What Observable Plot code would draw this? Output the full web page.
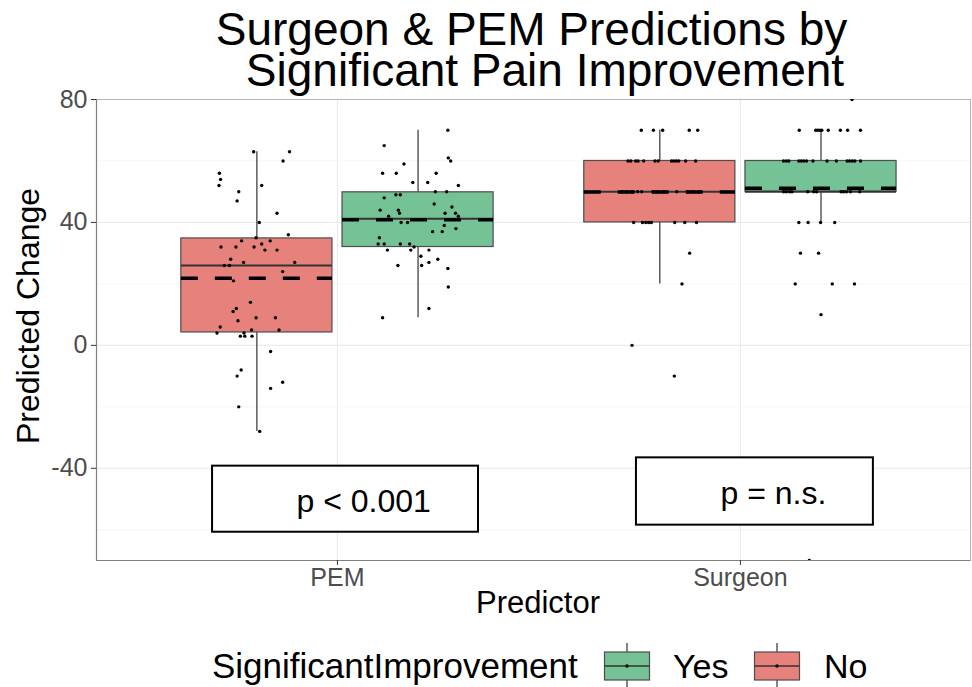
<!DOCTYPE html>
<html><head><meta charset="utf-8">
<script src="https://cdn.jsdelivr.net/npm/d3@7"></script>
<script src="https://cdn.jsdelivr.net/npm/@observablehq/plot@0.6"></script>
<style>body{margin:0;background:#fff} #chart svg{display:block}</style>
</head><body><div id="chart"></div>
<script>
// ---------- data ----------
const predictors = ["PEM", "Surgeon"];
const groups = ["Yes", "No"];
const yTicks = [-40, 0, 40, 80];
const yMinorTicks = [-60, -20, 20, 60];

// box statistics (order: PEM-No, PEM-Yes, Surgeon-No, Surgeon-Yes)
const boxPredictor = ["PEM", "PEM", "Surgeon", "Surgeon"];
const boxGroup = ["No", "Yes", "No", "Yes"];
const q1 = [4.2, 32, 40, 50];
const median = [26, 41.2, 50, 50];
const q3 = [34.8, 49.8, 60, 60];
const whiskerLow = [-28, 9, 20, 40];
const whiskerHigh = [63, 70, 70, 70];
const meanValue = [21.8, 40.9, 49.9, 51.1];

// individual (jittered) predictions; jitter = fraction of jitter width
const pemNoValues = [63,63,60,56,54,52,52,50,47,43,40,36,35,34,34,32,32,32,33,31,31,28,26,26,27,27,24,21,14,12,11,9,9,8,6,5,5,4,4,3,3,3,-2,-8,-10,-12,-14,-20,-28];
const pemNoJitter = [-0.08,0.81,0.65,-0.93,-0.90,-0.94,0.12,-0.45,-0.49,0.50,0.06,0.78,-0.02,-0.38,0.33,-0.89,-0.52,-0.07,0.12,0.20,0.50,-0.65,-0.81,-0.68,-0.33,0.94,0.64,-0.58,-0.16,-0.51,-0.59,-0.02,0.46,-0.47,-0.91,-0.13,0.55,-0.99,-0.32,-0.41,-0.30,-0.12,0.34,-0.39,-0.49,0.64,0.34,-0.45,0.07];

const pemYesValues = [70,65,61,60,59,56,56,56,53,53,52,50,50,49,49,48,46,45,44,44,43,43,43,42,42,40,40,39,38,37,37,35,33,33,33,33,32,31,31,31,29,28,27,26,26,25,19,12,9];
const pemYesJitter = [0.74,-0.84,0.75,0.81,-0.35,-0.88,-0.54,0.45,-0.13,0.24,1.0,0.43,0.71,-0.55,-0.44,-0.84,0.40,0.84,-0.94,-0.49,-0.46,0.67,0.93,-0.73,1.0,-0.42,-0.26,0.65,0.94,0.36,0.60,-0.96,-0.99,-0.84,-0.44,-0.21,-0.10,-0.76,-0.18,0.27,0.07,0.49,0.27,-0.50,0.09,0.74,0.75,0.27,-0.88];

const surgNoValues = [70,70,70,70,70, 60,60,60,60,60,60,60,60,60,60,60,60,60, 50,50,50,50,50,50,50,50,50,50,50,50, 40,40,40,40,40,40,40,40, 30,20,0,-10];
const surgNoJitter = [-0.46,-0.16,0.07,0.73,0.94, -0.79,-0.72,-0.60,-0.54,-0.40,-0.12,-0.04,0.29,0.35,0.41,0.47,0.64,0.89, -0.94,-0.82,-0.69,-0.55,-0.45,-0.17,-0.05,0.10,0.42,0.69,0.82,0.97, -0.65,-0.43,-0.35,-0.28,-0.21,0.37,0.62,0.91, 0.74,0.55,-0.69,0.36];

const surgYesValues = [80, 70,70,70,70,70,70,70,70,70, 60,60,60,60,60,60,60,60,60,60,60,60,60,60,60, 50,50,50,50,50,50,50,50,50,50,50,50, 40,40,40,40, 30,30, 20,20,20, 10, -70];
const surgYesJitter = [0.77, -0.54,-0.13,-0.08,-0.03,0.02,0.18,0.48,0.66,0.98, -0.93,-0.86,-0.80,-0.55,-0.49,-0.43,-0.36,-0.20,0.15,0.38,0.65,0.71,0.78,0.84,0.98, -0.93,-0.86,-0.78,-0.72,-0.33,-0.18,-0.11,0.50,0.56,0.63,0.73,0.96, -0.55,-0.32,-0.01,0.34, -0.51,-0.06, -0.64,0.28,0.83, 0.00, -0.29];

// significance annotations (data coordinates)
const annLabels = ["p < 0.001", "p = n.s."];
const annX1 = [0.69, 1.742];
const annX2 = [1.35, 2.33];
const annY1 = [-60.8, -58.5];
const annY2 = [-39.3, -36.6];
const annTextX = [1.065, 2.082];
const annTextY = [-54.3, -51.7];

// ---------- build tables ----------
const dodge = {No: -0.2, Yes: 0.2};
const halfW = 0.1875;
const jitterWidth = 0.1;
const colors = {Yes: "#74c295", No: "#e6827b"};
const centerOf = (p, g) => predictors.indexOf(p) + 1 + dodge[g];

const boxes = boxPredictor.map((p, i) => ({
  predictor: p, group: boxGroup[i], xc: centerOf(p, boxGroup[i]),
  q1: q1[i], median: median[i], q3: q3[i], lo: whiskerLow[i], hi: whiskerHigh[i], mean: meanValue[i]
}));

const pointSets = [
  ["PEM", "No", pemNoValues, pemNoJitter],
  ["PEM", "Yes", pemYesValues, pemYesJitter],
  ["Surgeon", "No", surgNoValues, surgNoJitter],
  ["Surgeon", "Yes", surgYesValues, surgYesJitter]
];
const points = pointSets.flatMap(([p, g, vals, jit]) =>
  vals.map((v, i) => ({predictor: p, group: g, value: v, x: centerOf(p, g) + jit[i] * jitterWidth})));

const annotations = annLabels.map((l, i) => ({label: l, x1: annX1[i], x2: annX2[i], y1: annY1[i], y2: annY2[i], tx: annTextX[i], ty: annTextY[i]}));

const font = "'Liberation Sans', Arial, Helvetica, sans-serif";
const xDomain = [0.402, 2.571];
const yDomain = [-70, 80];

const chart = Plot.plot({
  width: 972, height: 687,
  marginTop: 99, marginBottom: 127, marginLeft: 96, marginRight: 2,
  x: {domain: xDomain},
  y: {domain: yDomain},
  color: {domain: groups, range: [colors.Yes, colors.No]},
  style: {fontFamily: font, fontSize: "25px", color: "#4d4d4d", background: "white", overflow: "visible"},
  marks: [
    Plot.ruleY(yMinorTicks, {stroke: "#f4f4f4", strokeWidth: 0.8}),
    Plot.ruleY(yTicks, {stroke: "#ebebeb", strokeWidth: 1.2}),
    Plot.ruleX([1, 2], {stroke: "#ebebeb", strokeWidth: 1.2}),
    Plot.frame({stroke: "#b3b3b3", strokeWidth: 1}),
    Plot.ruleX(boxes, {x: "xc", y1: "q3", y2: "hi", stroke: "#333", strokeWidth: 1.2}),
    Plot.ruleX(boxes, {x: "xc", y1: "lo", y2: "q1", stroke: "#333", strokeWidth: 1.2}),
    Plot.rect(boxes, {x1: d => d.xc - halfW, x2: d => d.xc + halfW, y1: "q1", y2: "q3", fill: "group", stroke: "#4d4d4d", strokeWidth: 1.2}),
    Plot.ruleY(boxes, {y: "median", x1: d => d.xc - halfW, x2: d => d.xc + halfW, stroke: "#333", strokeWidth: 2}),
    Plot.dot(points, {x: "x", y: "value", r: 1.7, fill: "black", stroke: "none", clip: true}),
    Plot.ruleY(boxes, {y: "mean", x1: d => d.xc - halfW, x2: d => d.xc + halfW, stroke: "black", strokeWidth: 3.5, strokeDasharray: "17,17"}),
    Plot.rect(annotations, {x1: "x1", x2: "x2", y1: "y1", y2: "y2", fill: "white", stroke: "black", strokeWidth: 2}),
    Plot.text(annotations, {x: "tx", y: "ty", text: "label", fontSize: 32, fill: "black", textAnchor: "middle", lineAnchor: "bottom"}),
    Plot.ruleX([xDomain[0]], {stroke: "#808080", strokeWidth: 1.2}),
    Plot.ruleY([yDomain[0]], {stroke: "#808080", strokeWidth: 1.2}),
    Plot.axisY({ticks: yTicks, tickFormat: d => String(d), tickSize: 5, tickPadding: 4, label: null, stroke: "#333", fill: "#4d4d4d"}),
    Plot.axisX({ticks: [1, 2], tickFormat: d => predictors[d - 1], tickSize: 5, tickPadding: 3, label: null, stroke: "#333", fill: "#4d4d4d"})
  ]
});

document.getElementById("chart").appendChild(chart);

// ---------- titles, axis titles, legend ----------
const svg = d3.select(chart);
const g = svg.append("g").attr("font-family", font).attr("fill", "black");
const title = g.append("text").attr("text-anchor", "middle").attr("font-size", 46);
title.append("tspan").attr("x", 531.5).attr("y", 45).text("Surgeon & PEM Predictions by");
title.append("tspan").attr("x", 545).attr("y", 86).text("Significant Pain Improvement");
g.append("text").attr("transform", "translate(39,316) rotate(-90)").attr("text-anchor", "middle").attr("font-size", 32)
  .text("Predicted Change");
g.append("text").attr("x", 538).attr("y", 613).attr("text-anchor", "middle").attr("font-size", 31)
  .text("Predictor");

const legendY = 666;
g.append("text").attr("x", 212).attr("y", legendY + 12).attr("text-anchor", "start").attr("font-size", 35).text("SignificantImprovement");
const keys = [{label: "Yes", cx: 627, tx: 673}, {label: "No", cx: 777, tx: 824}];
keys.forEach(k => {
  const kg = g.append("g");
  kg.append("line").attr("x1", k.cx).attr("x2", k.cx).attr("y1", legendY - 23).attr("y2", legendY + 23)
    .attr("stroke", "#333").attr("stroke-width", 1.2);
  kg.append("rect").attr("x", k.cx - 22.5).attr("y", legendY - 14).attr("width", 45).attr("height", 28)
    .attr("fill", colors[k.label]).attr("stroke", "#4d4d4d").attr("stroke-width", 1.2);
  kg.append("line").attr("x1", k.cx - 22.5).attr("x2", k.cx + 22.5).attr("y1", legendY).attr("y2", legendY)
    .attr("stroke", "#333").attr("stroke-width", 1.5);
  kg.append("circle").attr("cx", k.cx).attr("cy", legendY).attr("r", 1.7).attr("fill", "black");
  g.append("text").attr("x", k.tx).attr("y", legendY + 12).attr("text-anchor", "start").attr("font-size", 34).text(k.label);
});
</script></body></html>
